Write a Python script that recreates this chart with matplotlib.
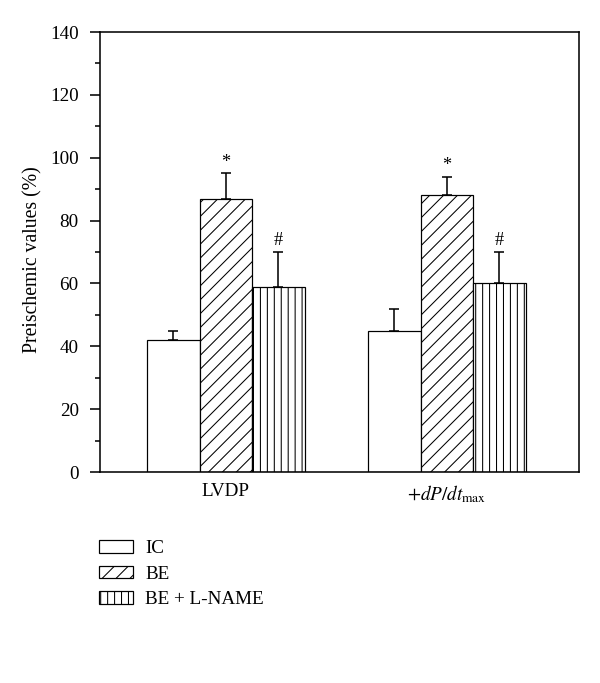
import numpy as np
import matplotlib
matplotlib.use("Agg")
import matplotlib.pyplot as plt

# data
groups = ["LVDP", r"$+dP/dt_{\mathrm{max}}$"]
series = ["IC", "BE", "BE + L-NAME"]
ic = [42, 45]
ic_err = [3, 7]
be = [87, 88]
be_err = [8, 6]
bel = [59, 60]
bel_err = [11, 10]
marks = ["", "*", "#"]

plt.rcParams["font.family"] = ["Liberation Serif", "DejaVu Serif"]
plt.rcParams["mathtext.fontset"] = "stix"
plt.rcParams["hatch.linewidth"] = 0.6

fig = plt.figure(figsize=(4.8, 5.464), dpi=125)
ax = fig.add_axes([0.1667, 0.3089, 0.798, 0.6442])

x = np.arange(len(groups))
w = 0.2376
hatches = ["", "///", "|||"]
vals = [ic, be, bel]
errs = [ic_err, be_err, bel_err]
handles = []
for i, (v, e, h, m) in enumerate(zip(vals, errs, hatches, marks)):
    pos = x + (i - 1) * w
    b = ax.bar(pos, v, width=w, facecolor="white", edgecolor="black",
               linewidth=0.7, hatch=h, label=series[i], zorder=2)
    handles.append(b)
    ax.errorbar(pos, v, yerr=[np.zeros(len(e)), e], fmt="none",
                ecolor="black", elinewidth=0.9, capsize=2.9, capthick=0.9,
                zorder=3)
    if m:
        for p, vv, ee in zip(pos, v, e):
            ax.annotate(m, (p, vv + ee), xytext=(0, 1.5),
                        textcoords="offset points", ha="center", va="bottom",
                        fontsize=10.5)

ax.set_xlim(-0.570, 1.597)
ax.set_ylim(0, 140)
ax.set_yticks(np.arange(0, 141, 20))
ax.set_yticks(np.arange(10, 140, 20), minor=True)
ax.set_xticks(x)
ax.set_xticklabels(groups)
ax.tick_params(axis="y", which="major", direction="out", length=5.8,
               width=0.9, pad=6.5, labelsize=11)
ax.tick_params(axis="y", which="minor", direction="out", length=2.9, width=0.9)
ax.tick_params(axis="x", length=0, pad=6.5, labelsize=11)
for s in ax.spines.values():
    s.set_linewidth(0.9)
ax.set_ylabel("Preischemic values (%)", fontsize=11.4)
ax.yaxis.set_label_coords(-0.121, 0.482)

fig.legend(handles=handles, labels=series, loc="upper left",
           bbox_to_anchor=(0.165, 0.209), frameon=False, fontsize=11,
           handlelength=1.78, handleheight=0.63, handletextpad=0.63,
           labelspacing=0.45, borderaxespad=0, borderpad=0)

fig.savefig("out.png", dpi=125)
